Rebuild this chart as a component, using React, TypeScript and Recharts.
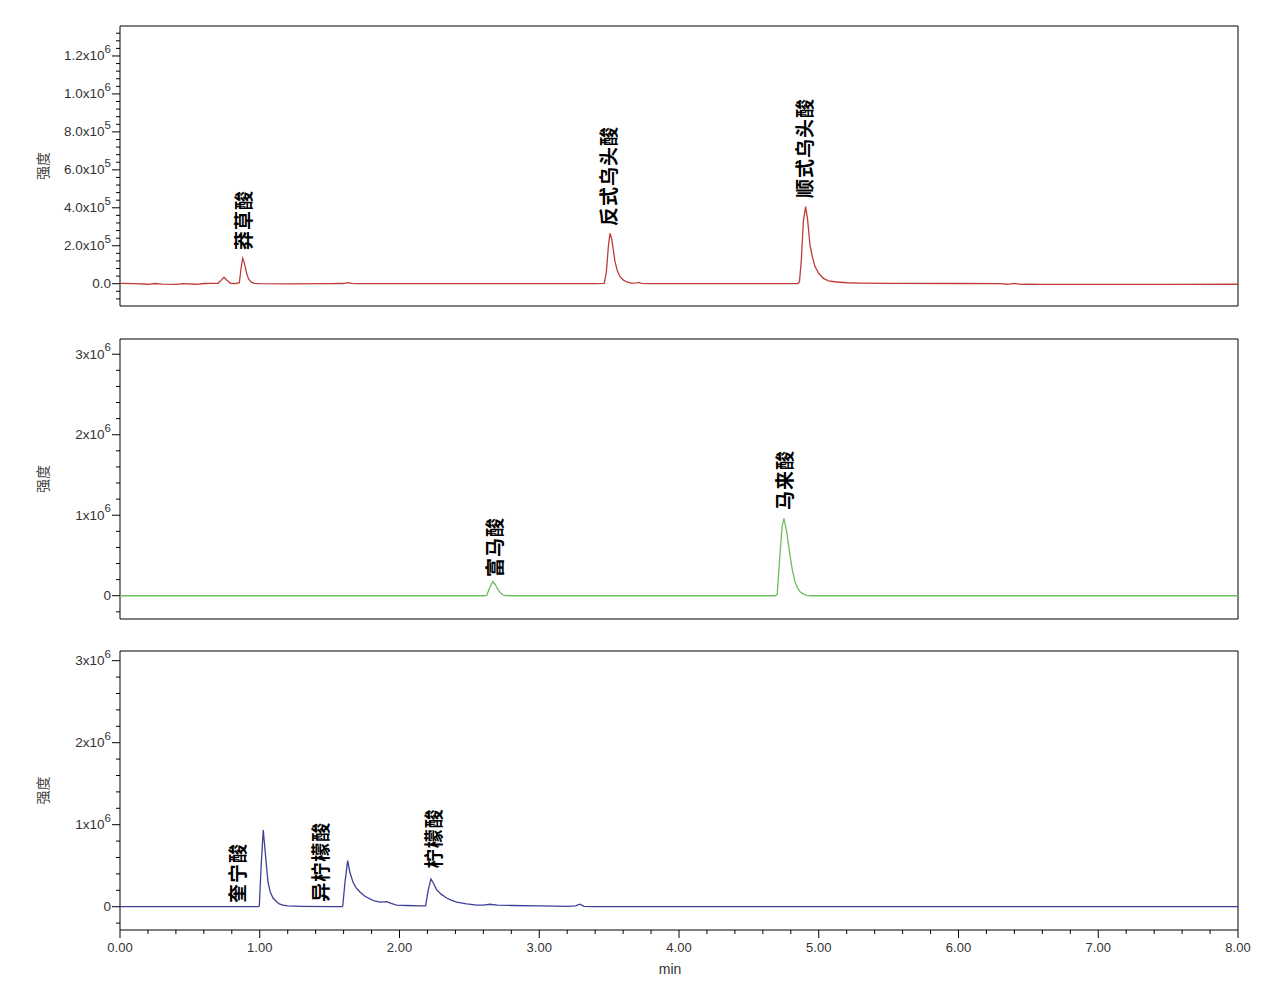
import { LineChart, Line, XAxis, YAxis, ReferenceArea, ReferenceDot } from 'recharts'

const FONT = '"Liberation Sans", Arial, sans-serif'
const CJK = '"Noto Sans CJK SC", "Noto Sans", sans-serif'

// retention time (min) and intensity
const redTimes = [
  0, 0.1, 0.2, 0.25, 0.3, 0.4, 0.45, 0.55, 0.6, 0.65,
  0.7, 0.72, 0.744, 0.765, 0.79, 0.83, 0.854, 0.866, 0.878, 0.89,
  0.906, 0.92, 0.94, 0.96, 1.0, 1.2, 1.5, 1.6, 1.63, 1.66,
  1.7, 2.0, 2.5, 3.0, 3.4, 3.465, 3.48, 3.495, 3.506, 3.52,
  3.542, 3.56, 3.578, 3.6, 3.626, 3.66, 3.7, 3.71, 3.73, 3.8,
  4.0, 4.5, 4.85, 4.862, 4.875, 4.89, 4.906, 4.92, 4.937, 4.955,
  4.973, 5.0, 5.033, 5.07, 5.128, 5.2, 5.3, 5.5, 6.0, 6.3,
  6.35, 6.4, 6.45, 6.5, 6.6, 7.0, 7.5, 8.0,
]
const redValues = [
  2000, 0, -3000, 1000, -2000, -4000, 0, -3000, 1000, 2000,
  2000, 15000, 34000, 18000, 2000, 1000, 5000, 80000, 134000, 110000,
  55000, 25000, 8000, 2000, 0, -1000, 0, 1000, 6000, 2000,
  0, 0, 0, 0, 0, 2000, 60000, 200000, 266000, 230000,
  116000, 65000, 37000, 20000, 9000, 3000, 4000, 7000, 2000, 0,
  0, 0, 1000, 10000, 120000, 330000, 406000, 340000, 204000, 140000,
  90000, 55000, 28000, 15000, 9000, 5000, 3000, 2000, 1000, 0,
  -3000, 2000, -4000, -2000, -4000, -4000, -4000, -3000,
]

const greenTimes = [
  0, 1.0, 2.0, 2.6, 2.624, 2.645, 2.667, 2.685, 2.7, 2.72,
  2.74, 2.755, 2.8, 4.0, 4.69, 4.703, 4.722, 4.738, 4.751, 4.77,
  4.794, 4.81, 4.83, 4.85, 4.866, 4.89, 4.914, 4.95, 8.0,
]
const greenValues = [
  0, 0, 0, 0, 5000, 100000, 174000, 140000, 90000, 40000,
  12000, 3000, 0, 0, 0, 20000, 500000, 860000, 960000, 800000,
  505000, 330000, 174000, 90000, 50000, 20000, 5000, 0, 0,
]

const blueTimes = [
  0, 0.5, 0.99, 0.997, 1.01, 1.025, 1.04, 1.059, 1.075, 1.095,
  1.12, 1.14, 1.166, 1.2, 1.3, 1.5, 1.59, 1.594, 1.61, 1.629,
  1.645, 1.667, 1.69, 1.717, 1.75, 1.789, 1.82, 1.86, 1.89, 1.908,
  1.94, 1.98, 2.05, 2.15, 2.187, 2.205, 2.225, 2.245, 2.266, 2.3,
  2.337, 2.37, 2.409, 2.48, 2.552, 2.6, 2.647, 2.7, 2.8, 3.0,
  3.2, 3.26, 3.29, 3.32, 3.4, 8.0,
]
const blueValues = [
  0, 0, 0, 10000, 500000, 935000, 650000, 300000, 180000, 106000,
  60000, 35000, 20000, 10000, 5000, 0, 0, 10000, 300000, 561000,
  420000, 300000, 230000, 180000, 130000, 95000, 70000, 57000, 60000, 62000,
  40000, 20000, 15000, 10000, 10000, 200000, 338000, 280000, 205000, 150000,
  106000, 80000, 57000, 35000, 20000, 20000, 30000, 20000, 15000, 10000,
  5000, 10000, 30000, 5000, 0, 0,
]

// peak names and where each name starts (time, intensity)
const redPeakNames = ['莽草酸', '反式乌头酸', '顺式乌头酸']
const redPeakTimes = [0.88, 3.485, 4.89]
const redPeakValues = [178000, 304000, 452000]
const greenPeakNames = ['富马酸', '马来酸']
const greenPeakTimes = [2.67, 4.75]
const greenPeakValues = [232000, 1065000]
const bluePeakNames = ['奎宁酸', '异柠檬酸', '柠檬酸']
const bluePeakTimes = [0.837, 1.431, 2.233]
const bluePeakValues = [45000, 60000, 468000]

// axes
const xMajorTicks = [0, 1, 2, 3, 4, 5, 6, 7, 8]
const xMajorLabels = ['0.00', '1.00', '2.00', '3.00', '4.00', '5.00', '6.00', '7.00', '8.00']
const xAllTicks = [
  0, 0.2, 0.4, 0.6, 0.8, 1, 1.2, 1.4, 1.6, 1.8, 2, 2.2, 2.4, 2.6, 2.8, 3, 3.2, 3.4, 3.6, 3.8,
  4, 4.2, 4.4, 4.6, 4.8, 5, 5.2, 5.4, 5.6, 5.8, 6, 6.2, 6.4, 6.6, 6.8, 7, 7.2, 7.4, 7.6, 7.8, 8,
]

const topMajorTicks = [0, 200000, 400000, 600000, 800000, 1000000, 1200000]
const topMantissas = ['0.0', '2.0x10', '4.0x10', '6.0x10', '8.0x10', '1.0x10', '1.2x10']
const topExponents = ['', '5', '5', '5', '5', '6', '6']
const topAllTicks = [
  -80000, -40000, 0, 40000, 80000, 120000, 160000, 200000, 240000, 280000, 320000, 360000,
  400000, 440000, 480000, 520000, 560000, 600000, 640000, 680000, 720000, 760000, 800000,
  840000, 880000, 920000, 960000, 1000000, 1040000, 1080000, 1120000, 1160000, 1200000,
  1240000, 1280000, 1320000,
]
const topDomain = [-117500, 1358000]

const lowMajorTicks = [0, 1000000, 2000000, 3000000]
const lowMantissas = ['0', '1x10', '2x10', '3x10']
const lowExponents = ['', '6', '6', '6']
const lowAllTicks = [
  -200000, 0, 200000, 400000, 600000, 800000, 1000000, 1200000, 1400000, 1600000, 1800000,
  2000000, 2200000, 2400000, 2600000, 2800000, 3000000,
]
const midDomain = [-289000, 3189000]
const botDomain = [-284000, 3118000]

const zip = (ts: number[], vs: number[]) => ts.map((t, i) => ({ t, v: vs[i] }))

function makeYTick(majors: number[], mantissas: string[], exponents: string[]) {
  return (props: any) => {
    const { x, y, payload } = props
    const idx = majors.indexOf(payload.value)
    const major = idx >= 0
    return (
      <g>
        <line x1={x - (major ? 8 : 4)} x2={x} y1={y} y2={y} stroke="#000" strokeWidth={1} />
        {major && (
          <text x={x - 9} y={y} textAnchor="end" dominantBaseline="central" fontSize={13.5} fill="#333" fontFamily={FONT}>
            {mantissas[idx]}
            {exponents[idx] && (
              <tspan dy={-7} fontSize={11.5}>
                {exponents[idx]}
              </tspan>
            )}
          </text>
        )}
      </g>
    )
  }
}

const XTick = (props: any) => {
  const { x, y, payload } = props
  const idx = xMajorTicks.indexOf(payload.value)
  const major = idx >= 0
  return (
    <g>
      <line x1={x} x2={x} y1={y} y2={y + (major ? 8 : 4)} stroke="#000" strokeWidth={1} />
      {major && (
        <text x={x} y={y + 17} textAnchor="middle" dominantBaseline="central" fontSize={13} fill="#333" fontFamily={FONT}>
          {xMajorLabels[idx]}
        </text>
      )}
    </g>
  )
}

const yLabel = (p: any) => {
  const vb = p.viewBox || { y: 10, height: 280 }
  const cy = vb.y + vb.height / 2
  return (
    <text x={42} y={cy} transform={`rotate(-90 42 ${cy})`} textAnchor="middle" dominantBaseline="central" fontSize={14} fill="#444" fontFamily={CJK}>
      强度
    </text>
  )
}

const xLabel = (p: any) => {
  const vb = p.viewBox || { x: 120, y: 289, width: 1118 }
  return (
    <text x={670} y={vb.y + 39} textAnchor="middle" dominantBaseline="central" fontSize={14} fill="#333" fontFamily={FONT}>
      min
    </text>
  )
}

const peakShape = (name: string) => (p: any) => (
  <text
    x={p.cx}
    y={p.cy}
    transform={`rotate(-90 ${p.cx} ${p.cy})`}
    textAnchor="start"
    dominantBaseline="central"
    fontSize={19}
    fontWeight="bold"
    letterSpacing={1}
    fill="#000"
    fontFamily={CJK}
  >
    {name}
  </text>
)

interface PanelProps {
  top: number
  height: number
  bottomMargin: number
  data: { t: number; v: number }[]
  color: string
  domain: number[]
  allTicks: number[]
  majors: number[]
  mantissas: string[]
  exponents: string[]
  names: string[]
  nameTimes: number[]
  nameValues: number[]
  showX?: boolean
}

function Panel(p: PanelProps) {
  return (
    <div style={{ position: 'absolute', left: 0, top: p.top }}>
      <LineChart width={1280} height={p.height} data={p.data} margin={{ top: 10, right: 42, bottom: p.bottomMargin, left: 0 }}>
        <XAxis
          type="number"
          dataKey="t"
          domain={[0, 8]}
          allowDataOverflow
          ticks={xAllTicks}
          interval={0}
          hide={!p.showX}
          height={50}
          axisLine={false}
          tickLine={false}
          tickSize={0}
          tickMargin={0}
          tick={<XTick />}
          label={p.showX ? { content: xLabel } : undefined}
        />
        <YAxis
          type="number"
          domain={p.domain}
          allowDataOverflow
          ticks={p.allTicks}
          interval={0}
          width={120}
          axisLine={false}
          tickLine={false}
          tickSize={0}
          tickMargin={0}
          tick={makeYTick(p.majors, p.mantissas, p.exponents)}
          label={{ content: yLabel }}
        />
        <ReferenceArea x1={0} x2={8} y1={p.domain[0]} y2={p.domain[1]} fill="none" stroke="#000" strokeWidth={1} fillOpacity={0} ifOverflow="visible" />
        <Line type="linear" dataKey="v" stroke={p.color} strokeWidth={1.3} dot={false} isAnimationActive={false} />
        {p.names.map((n, i) => (
          <ReferenceDot key={n} x={p.nameTimes[i]} y={p.nameValues[i]} r={0} shape={peakShape(n)} ifOverflow="visible" />
        ))}
      </LineChart>
    </div>
  )
}

export default function App() {
  return (
    <div style={{ position: 'absolute', left: 0, top: 0, width: 1280, height: 1002, background: '#fff' }}>
      <Panel
        top={16}
        height={300}
        bottomMargin={10}
        data={zip(redTimes, redValues)}
        color="#bf3b3b"
        domain={topDomain}
        allTicks={topAllTicks}
        majors={topMajorTicks}
        mantissas={topMantissas}
        exponents={topExponents}
        names={redPeakNames}
        nameTimes={redPeakTimes}
        nameValues={redPeakValues}
      />
      <Panel
        top={329}
        height={300}
        bottomMargin={10}
        data={zip(greenTimes, greenValues)}
        color="#6cbf5c"
        domain={midDomain}
        allTicks={lowAllTicks}
        majors={lowMajorTicks}
        mantissas={lowMantissas}
        exponents={lowExponents}
        names={greenPeakNames}
        nameTimes={greenPeakTimes}
        nameValues={greenPeakValues}
      />
      <Panel
        top={641}
        height={361}
        bottomMargin={22}
        data={zip(blueTimes, blueValues)}
        color="#3f3f99"
        domain={botDomain}
        allTicks={lowAllTicks}
        majors={lowMajorTicks}
        mantissas={lowMantissas}
        exponents={lowExponents}
        names={bluePeakNames}
        nameTimes={bluePeakTimes}
        nameValues={bluePeakValues}
        showX
      />
    </div>
  )
}
